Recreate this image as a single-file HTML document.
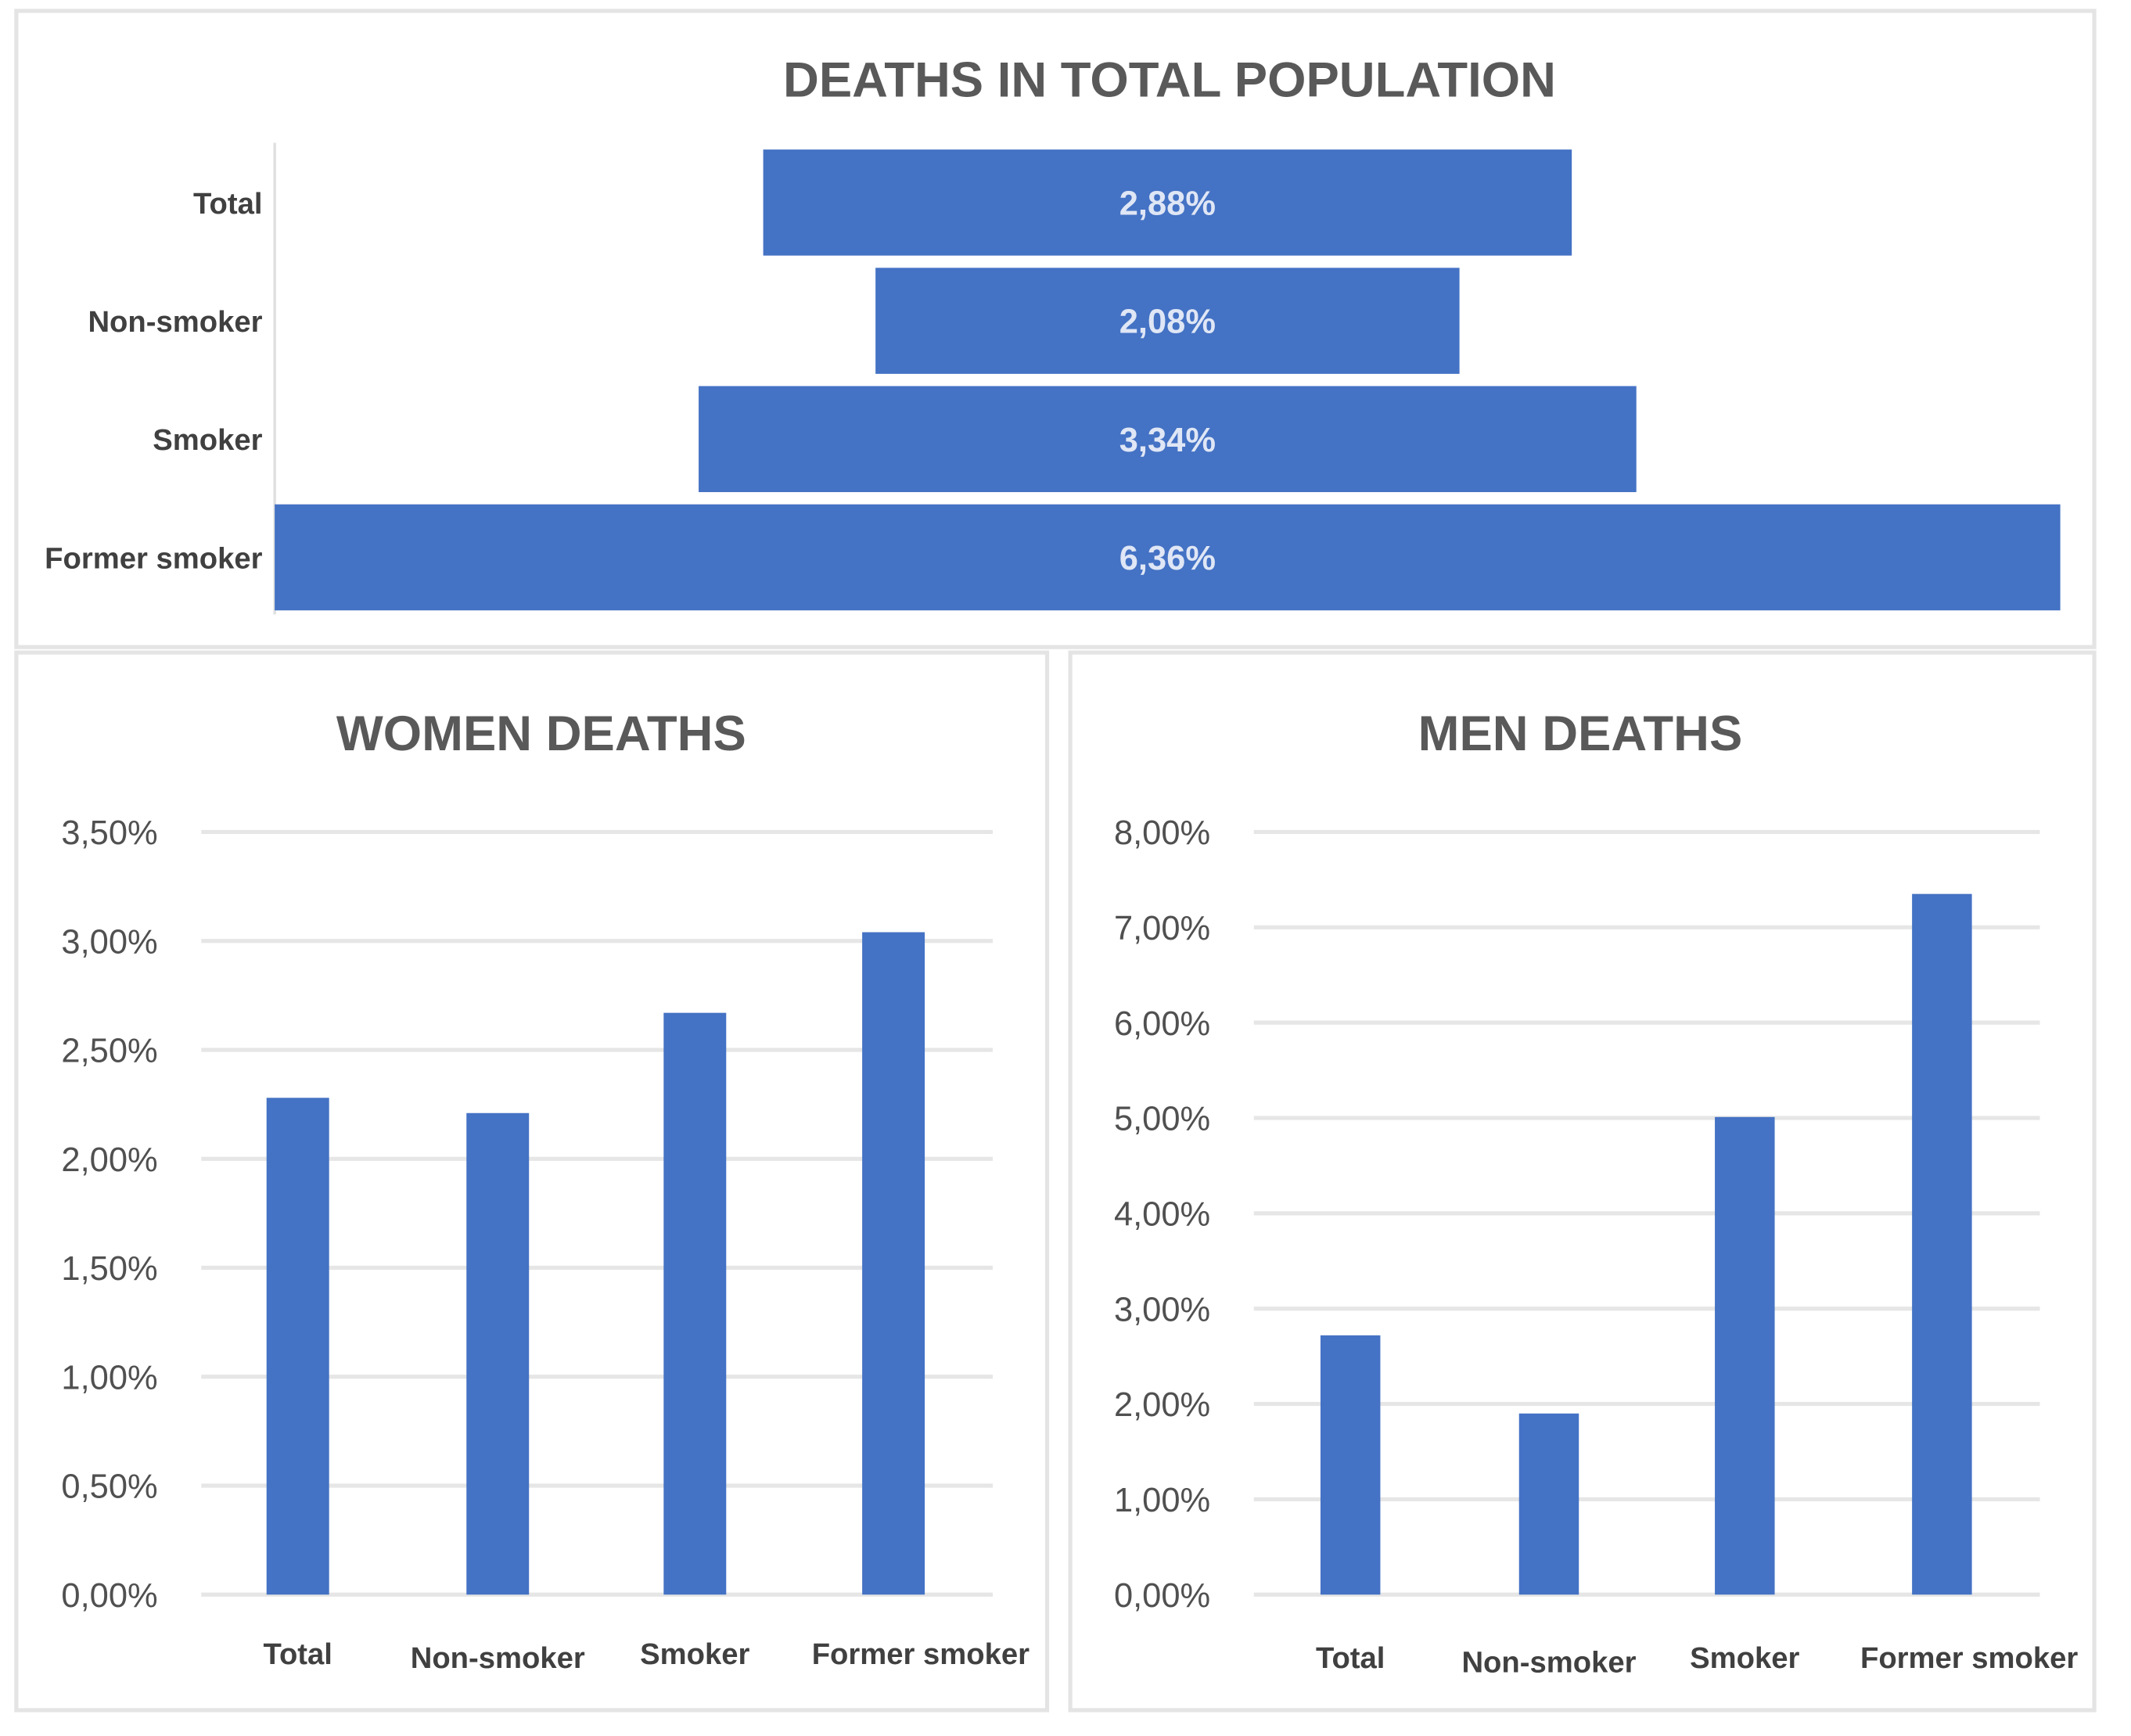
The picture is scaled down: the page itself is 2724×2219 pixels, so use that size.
<!DOCTYPE html>
<html><head><meta charset="utf-8"><style>
html,body{margin:0;padding:0;background:#fff;}
svg{display:block;}
text{font-family:"Liberation Sans",sans-serif;}
</style></head><body>
<svg id="chart" width="2724" height="2219" viewBox="0 0 1567 1277" preserveAspectRatio="none" xmlns="http://www.w3.org/2000/svg">
<rect x="0" y="0" width="1567" height="1277" fill="#fff"/>
<rect x="12" y="8" width="1528" height="468" fill="#fff" stroke="#e4e4e4" stroke-width="3"/>
<rect x="12" y="480" width="758" height="778" fill="#fff" stroke="#e4e4e4" stroke-width="3"/>
<rect x="787" y="480" width="753" height="778" fill="#fff" stroke="#e4e4e4" stroke-width="3"/>
<text x="860" y="71" text-anchor="middle" font-size="36.5" font-weight="bold" fill="#595959">DEATHS IN TOTAL POPULATION</text>
<text x="398" y="552" text-anchor="middle" font-size="36.5" font-weight="bold" fill="#595959">WOMEN DEATHS</text>
<text x="1162" y="552" text-anchor="middle" font-size="36.5" font-weight="bold" fill="#595959">MEN DEATHS</text>
<line x1="202" y1="105" x2="202" y2="452" stroke="#e0e0e0" stroke-width="2"/>
<g id="g"></g>
</svg>
<script>
const categories = ["Total", "Non-smoker", "Smoker", "Former smoker"];
const totalValues = [2.88, 2.08, 3.34, 6.36];
const totalLabels = ["2,88%", "2,08%", "3,34%", "6,36%"];
const womenValues = [2.28, 2.21, 2.67, 3.04];
const womenTicks = [0, 0.5, 1, 1.5, 2, 2.5, 3, 3.5];
const womenTickLabels = ["0,00%", "0,50%", "1,00%", "1,50%", "2,00%", "2,50%", "3,00%", "3,50%"];
const menValues = [2.72, 1.90, 5.01, 7.35];
const menTicks = [0, 1, 2, 3, 4, 5, 6, 7, 8];
const menTickLabels = ["0,00%", "1,00%", "2,00%", "3,00%", "4,00%", "5,00%", "6,00%", "7,00%", "8,00%"];

const NS = "http://www.w3.org/2000/svg";
const g = document.getElementById("g");
function mk(tag, attrs, txt) {
  const e = document.createElementNS(NS, tag);
  for (const k in attrs) e.setAttribute(k, attrs[k]);
  if (txt !== undefined) e.textContent = txt;
  g.appendChild(e);
  return e;
}
const BLUE = "#4472C4";

// Funnel chart
const fCenter = 858.5, fMaxW = 1313, fMax = Math.max(...totalValues);
const fx = v => v / fMax * fMaxW;
const fRowTop = 110, fRowStep = 87, fBarH = 78;
categories.forEach((c, i) => {
  const w = fx(totalValues[i]);
  const y = fRowTop + i * fRowStep;
  const r = mk("rect", {x: fCenter - w / 2, y: y, width: w, height: fBarH, fill: BLUE});
  
  
  const t = mk("text", {x: fCenter, y: y + fBarH / 2 + 9, "text-anchor": "middle", "font-size": 25, "font-weight": "bold", fill: "#dfe6f5"}, totalLabels[i]);
  
  
  const l = mk("text", {x: 193, y: y + fBarH / 2 + 8, "text-anchor": "end", "font-size": 22, "font-weight": "bold", fill: "#404040"}, c);
  
  
});

function columnChart(prefix, values, ticks, tickLabels, x0, x1, y0, y1, centers, barW, tickX, labelY) {
  const tmax = ticks[ticks.length - 1];
  const sy = v => y0 - v / tmax * (y0 - y1);
  ticks.forEach((tk, i) => {
    const ln = mk("line", {x1: x0, x2: x1, y1: sy(tk), y2: sy(tk), stroke: "#e6e6e6", "stroke-width": 3});
    
    
    const t = mk("text", {x: tickX, y: sy(tk) + 9, "text-anchor": "end", "font-size": 25, fill: "#505050"}, tickLabels[i]);
    
    
  });
  values.forEach((v, i) => {
    const r = mk("rect", {x: centers[i] - barW / 2, y: sy(v), width: barW, height: sy(0) - sy(v), fill: BLUE});
    
    
    const t = mk("text", {x: centers[i] + (i === 3 ? 20 : 0), y: labelY + (i === 1 ? 3 : 0), "text-anchor": "middle", "font-size": 22, "font-weight": "bold", fill: "#404040"}, categories[i]);
    
    
  });
}
columnChart("women", womenValues, womenTicks, womenTickLabels, 148, 730, 1173, 612, [219, 366, 511, 657], 46, 116, 1224);
columnChart("men", menValues, menTicks, menTickLabels, 922, 1500, 1173, 612, [993, 1139, 1283, 1428], 44, 890, 1227);
</script>
</body></html>
